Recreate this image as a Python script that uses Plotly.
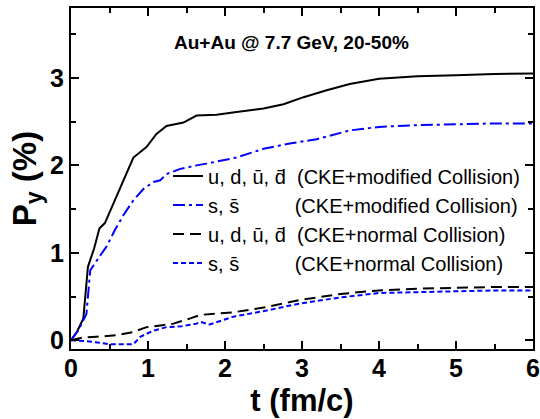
import plotly.graph_objects as go

# u, d, ubar, dbar (CKE+modified Collision)
t_ud_mod = [0, 0.08, 0.16, 0.22, 0.3, 0.37, 0.44, 0.57, 0.7, 0.81, 0.98, 1.11, 1.24, 1.46, 1.63, 1.89, 2.15, 2.5, 2.76, 3.02, 3.32, 3.62, 4.0, 4.5, 5.0, 5.5, 6.0]
p_ud_mod = [0, 0.1, 0.25, 0.84, 1.05, 1.28, 1.34, 1.6, 1.88, 2.09, 2.21, 2.36, 2.45, 2.49, 2.57, 2.58, 2.61, 2.65, 2.70, 2.78, 2.86, 2.93, 2.99, 3.02, 3.03, 3.045, 3.05]

# s, sbar (CKE+modified Collision)
t_s_mod = [0, 0.1, 0.2, 0.25, 0.38, 0.46, 0.57, 0.68, 0.81, 0.94, 1.07, 1.16, 1.24, 1.42, 1.63, 1.76, 2.15, 2.5, 2.84, 3.19, 3.62, 4.0, 4.5, 5.0, 5.5, 6.0]
p_s_mod = [0, 0.12, 0.3, 0.8, 0.97, 1.07, 1.26, 1.43, 1.6, 1.73, 1.81, 1.83, 1.9, 1.96, 2.0, 2.02, 2.09, 2.19, 2.25, 2.30, 2.40, 2.44, 2.46, 2.47, 2.48, 2.48]

# u, d, ubar, dbar (CKE+normal Collision)
t_ud_norm = [0, 0.15, 0.33, 0.59, 0.81, 0.98, 1.16, 1.33, 1.55, 1.68, 2.11, 2.54, 2.97, 3.5, 4.0, 4.5, 5.0, 5.5, 6.0]
p_ud_norm = [0, 0.03, 0.04, 0.057, 0.095, 0.15, 0.17, 0.19, 0.25, 0.29, 0.32, 0.38, 0.46, 0.53, 0.57, 0.59, 0.60, 0.61, 0.61]

# s, sbar (CKE+normal Collision)
t_s_norm = [0, 0.2, 0.38, 0.5, 0.81, 0.9, 1.07, 1.24, 1.44, 1.63, 1.68, 1.8, 2.11, 2.54, 2.97, 3.5, 4.0, 4.5, 5.0, 5.5, 6.0]
p_s_norm = [0, -0.01, -0.03, -0.046, -0.046, 0.04, 0.11, 0.15, 0.16, 0.19, 0.21, 0.18, 0.27, 0.34, 0.42, 0.49, 0.54, 0.55, 0.56, 0.57, 0.57]

NB = "\u00a0"
names = [
    "u, d, \u016b, d\u0304" + NB * 2 + "(CKE+modified Collision)",
    "s, s\u0304" + NB * 10 + "(CKE+modified Collision)",
    "u, d, \u016b, d\u0304" + NB * 2 + "(CKE+normal Collision)",
    "s, s\u0304" + NB * 10 + "(CKE+normal Collision)",
]

fig = go.Figure()
fig.add_trace(go.Scatter(x=t_ud_mod, y=p_ud_mod, mode="lines", name=names[0],
                         line=dict(color="black", width=2, dash="solid")))
fig.add_trace(go.Scatter(x=t_s_mod, y=p_s_mod, mode="lines", name=names[1],
                         line=dict(color="#0000FF", width=2, dash="12px,4px,3px,4px")))
fig.add_trace(go.Scatter(x=t_ud_norm, y=p_ud_norm, mode="lines", name=names[2],
                         line=dict(color="black", width=2, dash="11px,6px")))
fig.add_trace(go.Scatter(x=t_s_norm, y=p_s_norm, mode="lines", name=names[3],
                         line=dict(color="#0000FF", width=2, dash="5px,3px")))

axis_common = dict(
    showline=True, linecolor="black", linewidth=2, mirror="allticks",
    ticks="inside", ticklen=8, tickwidth=1.5, tickcolor="black",
    showgrid=False, zeroline=False, automargin=False,
    tickfont=dict(family="Liberation Sans", size=25, color="black", weight="bold"),
    minor=dict(ticks="inside", ticklen=5, tickwidth=1.5, tickcolor="black", showgrid=False),
)

fig.update_xaxes(range=[0, 6], dtick=1, tick0=0, minor_dtick=0.5, ticklabelstandoff=-4,
                 title=dict(text="<b>t (fm/c)</b>", font=dict(family="Liberation Sans", size=31, color="black"), standoff=8),
                 **axis_common)
fig.update_yaxes(range=[-0.1, 3.8], dtick=1, tick0=0, minor_dtick=0.5,
                 title=dict(text="<b>P<sub>y</sub> (%)</b>", font=dict(family="Liberation Sans", size=33, color="black"), standoff=4),
                 **axis_common)

fig.add_annotation(x=(291 - 71) / 462, xref="paper", y=(349 - 42) / 341, yref="paper",
                   showarrow=False, xanchor="center", yanchor="middle",
                   text="<b>Au+Au @ 7.7 GeV, 20-50%</b>",
                   font=dict(family="Liberation Sans", size=19, color="black"))

fig.update_layout(
    width=540, height=419,
    margin=dict(l=71, r=7, t=8, b=70),
    paper_bgcolor="white", plot_bgcolor="white",
    showlegend=True,
    legend=dict(x=0.21, y=0.38, xanchor="left", yanchor="middle",
                bgcolor="rgba(0,0,0,0)", borderwidth=0,
                font=dict(family="Liberation Sans", size=20, color="black"),
                itemwidth=30, tracegroupgap=0),
)

fig.write_html("out.html")
